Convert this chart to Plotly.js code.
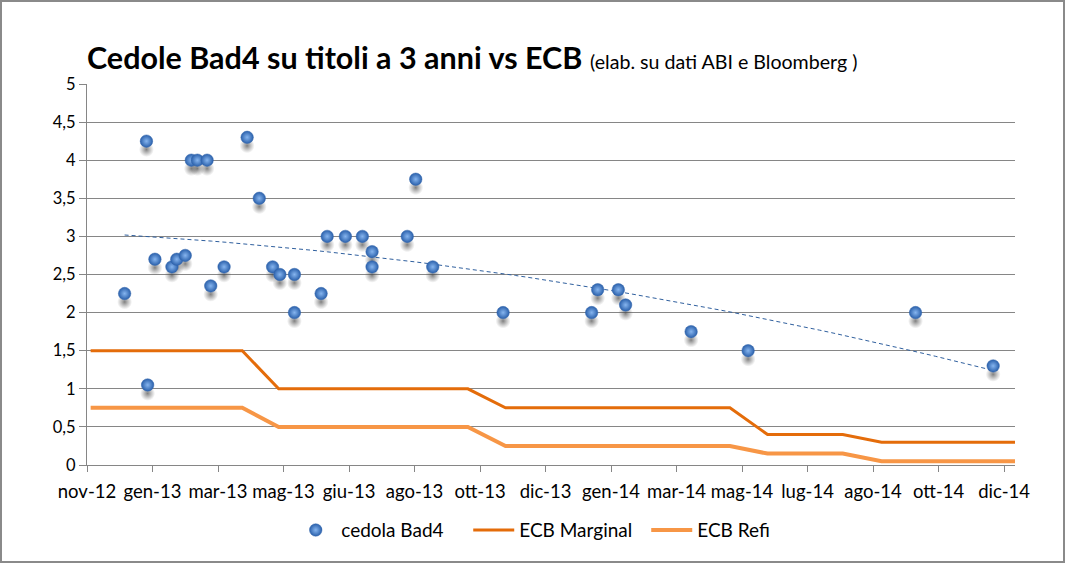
<!DOCTYPE html>
<html>
<head>
<meta charset="utf-8">
<script src="https://cdn.plot.ly/plotly-3.0.1.min.js"></script>
<style>
  html, body { margin: 0; padding: 0; background: #fff; }
  #chart { width: 1061px; height: 559px; border: 2px solid #8a8a8a; }
</style>
</head>
<body>
<div id="chart"></div>
<script>
// ---- data ----
const cedolaDates = ['2012-12-21','2013-01-08','2013-01-09','2013-01-15','2013-01-29','2013-02-02','2013-02-09',
  '2013-02-14','2013-02-19','2013-02-27','2013-03-02','2013-03-13','2013-04-01','2013-04-11','2013-04-22',
  '2013-04-28','2013-05-10','2013-05-10','2013-06-01','2013-06-06','2013-06-21','2013-07-05','2013-07-13',
  '2013-07-13','2013-08-11','2013-08-18','2013-09-01','2013-10-29','2014-01-10','2014-01-15','2014-02-01',
  '2014-02-07','2014-04-02','2014-05-19','2014-10-04','2014-12-07'];
const cedolaValues = [2.25,4.25,1.05,2.7,2.6,2.7,2.75,
  4.0,4.0,4.0,2.35,2.6,4.3,3.5,2.6,
  2.5,2.5,2.0,2.25,3.0,3.0,3.0,2.8,
  2.6,3.0,3.75,2.6,2.0,2.0,2.3,2.3,
  2.1,1.75,1.5,2.0,1.3];

const ecbDates = ['2012-11-23','2013-03-28','2013-04-27','2013-09-30','2013-10-31','2014-05-04','2014-06-04','2014-08-05','2014-09-06','2014-12-25'];
const ecbMarginal = [1.5,1.5,1.0,1.0,0.75,0.75,0.40,0.40,0.30,0.30];
const ecbRefi     = [0.75,0.75,0.5,0.5,0.25,0.25,0.15,0.15,0.05,0.05];

const tickDates = ['2012-11-20','2013-01-13','2013-03-08','2013-05-01','2013-06-24','2013-08-17','2013-10-10',
  '2013-12-03','2014-01-26','2014-03-21','2014-05-14','2014-07-07','2014-08-30','2014-10-23','2014-12-16'];
const tickLabels = ['nov-12','gen-13','mar-13','mag-13','giu-13','ago-13','ott-13',
  'dic-13','gen-14','mar-14','mag-14','lug-14','ago-14','ott-14','dic-14'];
const xRange = ['2012-11-20','2014-12-25'];

// ---- polynomial (order 2) trendline, least squares on the cedola series ----
const DAY = 86400000;
const t0 = new Date(cedolaDates[0] + 'T00:00:00Z').getTime();
const tx = cedolaDates.map(d => (new Date(d + 'T00:00:00Z').getTime() - t0) / DAY);
function quadFit(xs, ys) {
  let S = [0,0,0,0,0], T = [0,0,0];
  for (let i = 0; i < xs.length; i++) {
    let p = 1;
    for (let k = 0; k < 5; k++) { S[k] += p; if (k < 3) T[k] += p * ys[i]; p *= xs[i]; }
  }
  const A = [[S[0],S[1],S[2],T[0]],[S[1],S[2],S[3],T[1]],[S[2],S[3],S[4],T[2]]];
  for (let c = 0; c < 3; c++) {
    for (let r = c + 1; r < 3; r++) {
      const f = A[r][c] / A[c][c];
      for (let k = c; k < 4; k++) A[r][k] -= f * A[c][k];
    }
  }
  const sol = [0,0,0];
  for (let r = 2; r >= 0; r--) {
    let s = A[r][3];
    for (let k = r + 1; k < 3; k++) s -= A[r][k] * sol[k];
    sol[r] = s / A[r][r];
  }
  return sol;
}
const coef = quadFit(tx, cedolaValues);
const tEnd = Math.max(...tx);
const trendX = [], trendY = [];
for (let i = 0; i <= 60; i++) {
  const d = tEnd * i / 60;
  trendX.push(new Date(t0 + d * DAY).toISOString().slice(0,19));
  trendY.push(coef[0] + coef[1]*d + coef[2]*d*d);
}

// drop shadow under each sphere (small visual offset below the point)
const shadowOffset = 0.11;
const shadowValues = cedolaValues.map(v => v - shadowOffset);

const font = 'Lato, "Open Sans", sans-serif';

const traces = [
  { x: cedolaDates, y: shadowValues, type: 'scatter', mode: 'markers', showlegend: false, hoverinfo: 'skip',
    marker: { size: 15, color: 'rgba(90,90,90,0)', line: {width: 0},
              gradient: { type: 'radial', color: 'rgba(60,60,60,0.65)' } } },
  { x: trendX, y: trendY, type: 'scatter', mode: 'lines', showlegend: false, hoverinfo: 'skip',
    line: { color: '#2f5f9e', width: 1, dash: '4px,3px' } },
  { x: ecbDates, y: ecbMarginal, name: 'ECB Marginal', type: 'scatter', mode: 'lines', legendrank: 2,
    line: { color: '#e46c0a', width: 3 } },
  { x: ecbDates, y: ecbRefi, name: 'ECB Refi', type: 'scatter', mode: 'lines', legendrank: 3,
    line: { color: '#f79646', width: 4 } },
  { x: cedolaDates, y: cedolaValues, name: 'cedola Bad4', type: 'scatter', mode: 'markers', legendrank: 1,
    marker: { size: 12.5, color: '#2a60ab', line: {width: 0.5, color: '#3566ad'},
              gradient: { type: 'radial', color: '#86b5ef' } } }
];

const layout = {
  width: 1061, height: 559,
  margin: { l: 85, r: 48, t: 82, b: 96 },
  paper_bgcolor: '#fff', plot_bgcolor: '#fff',
  separators: ',.',
  font: { family: font, size: 17, color: '#000' },
  title: {
    text: '<b>Cedole Bad4 su titoli a 3 anni vs ECB</b> <span style="font-size:19.6px">(elab. su dati ABI e Bloomberg )</span>',
    font: { family: font, size: 30.5, color: '#000' },
    x: 0, xref: 'paper', xanchor: 'left',
    y: 1 - 56/559, yref: 'container', yanchor: 'middle'
  },
  xaxis: {
    type: 'date', range: xRange,
    tickvals: tickDates, ticktext: tickLabels,
    showgrid: false, zeroline: false,
    showline: true, linecolor: '#868686', linewidth: 1,
    ticks: 'outside', ticklen: 6, tickcolor: '#868686',
    ticklabelstandoff: 4,
    tickfont: { family: font, size: 18.5, color: '#000' }
  },
  yaxis: {
    range: [0, 5], dtick: 0.5, tick0: 0,
    showgrid: true, gridcolor: '#868686', gridwidth: 1,
    zeroline: false, showline: true, linecolor: '#868686', linewidth: 1,
    ticks: 'outside', ticklen: 7, tickcolor: '#868686',
    tickfont: { family: font, size: 16.5, color: '#000' }
  },
  legend: {
    orientation: 'h', x: 0.219, xanchor: 'left', y: -0.171, yanchor: 'middle',
    font: { family: font, size: 19, color: '#000' },
    itemwidth: 41, traceorder: 'normal',
    entrywidth: 122, entrywidthmode: 'pixels'
  },
  showlegend: true
};

Plotly.newPlot('chart', traces, layout, { displayModeBar: false, staticPlot: true });
</script>
</body>
</html>
